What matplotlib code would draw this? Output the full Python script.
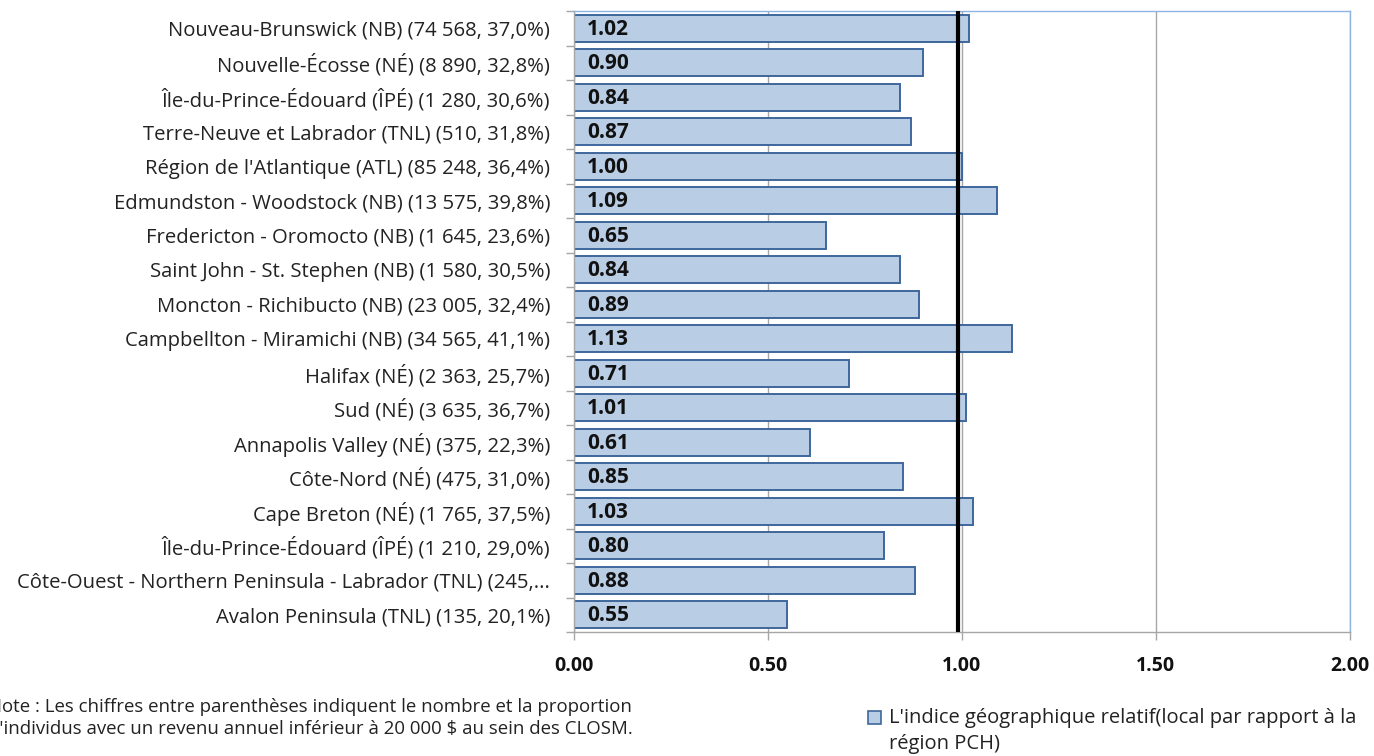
import matplotlib.pyplot as plt
from matplotlib.patches import Rectangle

# =====================================================
# Data
# =====================================================

regions = [
    "Nouveau-Brunswick (NB) (74 568, 37,0%)",
    "Nouvelle-Écosse (NÉ) (8 890, 32,8%)",
    "Île-du-Prince-Édouard (ÎPÉ) (1 280, 30,6%)",
    "Terre-Neuve et Labrador (TNL) (510, 31,8%)",
    "Région de l'Atlantique (ATL) (85 248, 36,4%)",
    "Edmundston - Woodstock (NB) (13 575, 39,8%)",
    "Fredericton - Oromocto (NB) (1 645, 23,6%)",
    "Saint John - St. Stephen (NB) (1 580, 30,5%)",
    "Moncton - Richibucto (NB) (23 005, 32,4%)",
    "Campbellton - Miramichi (NB) (34 565, 41,1%)",
    "Halifax (NÉ) (2 363, 25,7%)",
    "Sud (NÉ) (3 635, 36,7%)",
    "Annapolis Valley (NÉ) (375, 22,3%)",
    "Côte-Nord (NÉ) (475, 31,0%)",
    "Cape Breton (NÉ) (1 765, 37,5%)",
    "Île-du-Prince-Édouard (ÎPÉ) (1 210, 29,0%)",
    "Côte-Ouest - Northern Peninsula - Labrador (TNL) (245,...",
    "Avalon Peninsula (TNL) (135, 20,1%)",
]
index_values = [1.02, 0.90, 0.84, 0.87, 1.00, 1.09, 0.65, 0.84, 0.89,
                1.13, 0.71, 1.01, 0.61, 0.85, 1.03, 0.80, 0.88, 0.55]
reference_value = 0.99
x_ticks = [0.0, 0.5, 1.0, 1.5, 2.0]

legend_label = "L'indice géographique relatif(local par rapport à la\nrégion PCH)"
note_text = ("Note : Les chiffres entre parenthèses indiquent le nombre et la proportion\n"
             "d'individus avec un revenu annuel inférieur à 20 000 $ au sein des CLOSM.")

# =====================================================
# Figure
# =====================================================

plt.rcParams["font.family"] = ["Open Sans", "DejaVu Sans"]

fill = "#B9CDE5"
edge = "#3E679B"
grid_gray = "#A6A6A6"
light_blue = "#8EB4E3"

fig = plt.figure(figsize=(13.74, 7.56), dpi=100)
ax = fig.add_axes([0.4175, 0.164, 0.9823 - 0.4175, 0.9854 - 0.164])

n = len(regions)
ypos = list(range(n))
ax.barh(ypos, index_values, height=0.78, color=fill, edgecolor=edge,
        linewidth=1.4, zorder=2)

for y, v in zip(ypos, index_values):
    ax.text(0.035, y + 0.03, f"{v:.2f}", va="center", ha="left",
            fontsize=15, fontweight="bold", color="#111111", zorder=4)

ax.axvline(reference_value, color="black", linewidth=3, zorder=3)

ax.set_xlim(0, 2.0)
ax.set_ylim(n - 0.5, -0.5)

ax.set_yticks(ypos)
ax.set_yticklabels(regions, fontsize=14.6, color="#222222")
ax.set_yticks([i - 0.5 for i in range(n + 1)], minor=True)
ax.tick_params(axis="y", which="major", length=0, pad=17)
ax.tick_params(axis="y", which="minor", length=6, color=grid_gray, width=1)

ax.set_xticks(x_ticks)
ax.set_xticklabels([f"{t:.2f}" for t in x_ticks], fontsize=14,
                   fontweight="bold", color="#111111")
ax.tick_params(axis="x", length=6, color=grid_gray, width=1, pad=11)

ax.grid(axis="x", color=grid_gray, linewidth=1, zorder=0)
ax.set_axisbelow(True)

ax.spines["left"].set_color(grid_gray)
ax.spines["bottom"].set_color(grid_gray)
ax.spines["top"].set_color(light_blue)
ax.spines["right"].set_color(light_blue)
for s in ax.spines.values():
    s.set_linewidth(1)

# Note (clipped at the left edge, as in the source)
fig.text(-0.009, 1 - 718 / 756, note_text, ha="left", va="center",
         fontsize=13.4, color="#222222", linespacing=1.3)

# Legend
fig.patches.append(Rectangle((868 / 1374, 1 - 724 / 756), 13 / 1374, 13 / 756,
                             transform=fig.transFigure, facecolor=fill,
                             edgecolor=edge, linewidth=1.2))
fig.text(889 / 1374, 1 - 731 / 756, legend_label, ha="left", va="center",
         fontsize=14.5, color="#222222", linespacing=1.4)

fig.savefig("out.png", dpi=100)
